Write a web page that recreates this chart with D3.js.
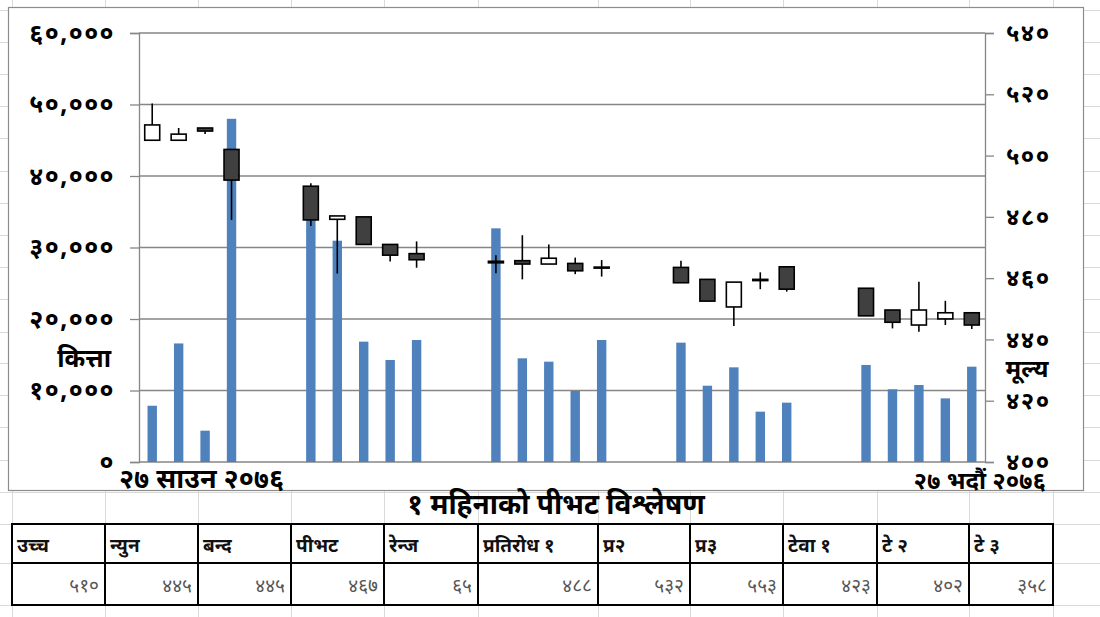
<!DOCTYPE html>
<html>
<head>
<meta charset="utf-8">
<script src="https://cdn.jsdelivr.net/npm/d3@7"></script>
<style>
  body { margin: 0; background: #fff; }
  svg text { font-family: "Noto Sans Devanagari", "Noto Serif Devanagari", "Lohit Devanagari", "FreeSans", "Noto Sans", sans-serif; }
</style>
</head>
<body>
<div id="viz"></div>
<script>
// calendar days on the axis (27 Saun .. 27 Bhadau 2076)
var days = ['S27','S28','S29','S30','S31','B1','B2','B3','B4','B5','B6','B7','B8','B9','B10','B11',
            'B12','B13','B14','B15','B16','B17','B18','B19','B20','B21','B22','B23','B24','B25','B26','B27'];
// trading days
var tradeDays = ['S27','S28','S29','S30','B2','B3','B4','B5','B6','B9','B10','B11','B12','B13',
                 'B16','B17','B18','B19','B20','B23','B24','B25','B26','B27'];
var volume = [7870, 16580, 4380, 48000, 36000, 30950, 16830, 14270, 17060, 32680, 14500, 14030,
              9930, 17060, 16690, 10670, 13240, 7040, 8300, 13570, 10170, 10770, 8900, 13330];
var opens  = [505, 505, 509, 502, 490, 479.2, 480, 471, 468, 465.5, 465.7, 464.6,
              464.8, 463.6, 463.5, 459.6, 450.6, 459.2, 463.7, 456.7, 449.6, 444.7, 446.7, 448.7];
var highs  = [517, 509, 509, 502, 491, 480.3, 480, 471, 472, 467.5, 474, 471,
              466.7, 465.9, 465.7, 459.6, 458.7, 461.9, 463.7, 456.7, 449.6, 458.8, 452.6, 448.7];
var lows   = [505, 505, 507, 479, 477, 461.5, 471, 465.4, 463.4, 461.6, 459.6, 464.6,
              461.3, 460.5, 458.5, 452.5, 444.4, 456.4, 455.6, 447.7, 443.6, 442.5, 444.7, 443.4];
var closes = [510, 507, 508, 492, 479, 480.3, 471, 467.5, 466, 465, 464.6, 466.5,
              462.4, 463.4, 458.5, 452.5, 458.7, 459.6, 456.4, 447.7, 445.6, 449.6, 448.7, 444.7];

var volTicks = [0, 10000, 20000, 30000, 40000, 50000, 60000];
var priceTicks = [400, 420, 440, 460, 480, 500, 520, 540];
var startLabel = '२७ साउन २०७६';
var endLabel = '२७ भदौं २०७६';
var title = '१ महिनाको पीभट विश्लेषण';

var tableHead = ['उच्च', 'न्युन', 'बन्द', 'पीभट', 'रेन्ज', 'प्रतिरोध १', 'प्र२', 'प्र३', 'टेवा १', 'टे २', 'टे ३'];
var tableVal = [510, 445, 445, 467, 65, 488, 532, 553, 423, 402, 358];

var W = 1100, H = 617;
var nep = '०१२३४५६७८९';
function dev(s) { return String(s).replace(/[0-9]/g, c => nep[+c]); }

var svg = d3.select('#viz').append('svg').attr('width', W).attr('height', H);

// spreadsheet background grid
var colX = [12, 105, 198, 291, 384, 478, 598, 690, 783, 877, 969, 1053];
var rowY = [10, 42, 74, 106, 138, 171, 203, 235, 267, 299, 332, 363, 395, 427, 460, 492, 524, 563, 605];
var sheet = svg.append('g').attr('stroke', '#dadada').attr('stroke-width', 1);
colX.concat([1100]).forEach(x => sheet.append('line').attr('x1', x + .5).attr('x2', x + .5).attr('y1', 0).attr('y2', H));
rowY.forEach(y => sheet.append('line').attr('x1', 0).attr('x2', W).attr('y1', y + .5).attr('y2', y + .5));

// chart area
svg.append('rect').attr('x', 8.5).attr('y', 7.5).attr('width', 1075).attr('height', 483)
   .attr('fill', '#fff').attr('stroke', '#8c8c8c').attr('stroke-width', 1.2);

var plotL = 139, plotR = 985, plotT = 33, plotB = 462;

var x = d3.scaleBand().domain(days).range([plotL, plotR]);
var cx = d => x(d) + x.bandwidth() / 2;
var yV = d3.scaleLinear().domain([0, 60000]).range([plotB, plotT]);
var yP = d3.scaleLinear().domain([400, 540]).range([plotB, plotT]);

// gridlines
svg.append('g').selectAll('line').data(volTicks).enter().append('line')
   .attr('x1', plotL).attr('x2', plotR)
   .attr('y1', d => yV(d)).attr('y2', d => yV(d))
   .attr('stroke', '#868686').attr('stroke-width', 1.3);

// volume bars
svg.append('g').selectAll('rect').data(tradeDays).enter().append('rect')
   .attr('x', d => cx(d) - 4.7)
   .attr('width', 9.4)
   .attr('y', (d, i) => yV(volume[i]))
   .attr('height', (d, i) => yV(0) - yV(volume[i]))
   .attr('fill', '#4f81bd');

// axes
var axL = svg.append('g').attr('transform', 'translate(' + plotL + ',0)')
  .call(d3.axisLeft(yV).tickValues(volTicks).tickSize(9).tickPadding(15)
        .tickFormat(d => dev(d3.format(',')(d))));
var axR = svg.append('g').attr('transform', 'translate(' + plotR + ',0)')
  .call(d3.axisRight(yP).tickValues(priceTicks).tickSize(9).tickPadding(12)
        .tickFormat(d => dev(d)));
[axL, axR].forEach(a => {
  a.select('.domain').attr('stroke', '#868686').attr('stroke-width', 1.3);
  a.selectAll('.tick line').attr('stroke', '#868686').attr('stroke-width', 1.3);
  a.selectAll('.tick text').attr('font-size', 25).attr('font-weight', 'bold')
   .attr('letter-spacing', 1.4).attr('fill', '#000');
});
axR.selectAll('.tick text').attr('font-size', 24);

// candles
var candle = svg.append('g').selectAll('g').data(tradeDays).enter().append('g');
candle.append('line')
  .attr('x1', d => cx(d)).attr('x2', d => cx(d))
  .attr('y1', (d, i) => yP(highs[i])).attr('y2', (d, i) => yP(lows[i]))
  .attr('stroke', '#000').attr('stroke-width', 1.6);
candle.append('rect')
  .attr('x', d => cx(d) - 7.5).attr('width', 15)
  .attr('y', (d, i) => yP(Math.max(opens[i], closes[i])))
  .attr('height', (d, i) => Math.max(1, Math.abs(yP(opens[i]) - yP(closes[i]))))
  .attr('fill', (d, i) => closes[i] > opens[i] ? '#fff' : '#404040')
  .attr('stroke', '#000').attr('stroke-width', 1.6);

// axis titles and date labels
svg.append('text').attr('x', 111).attr('y', 367).attr('text-anchor', 'end')
   .attr('font-size', 25).attr('font-weight', 'bold').text('कित्ता');
svg.append('text').attr('x', 1027).attr('y', 377).attr('text-anchor', 'middle')
   .attr('font-size', 24).attr('font-weight', 'bold').text('मूल्य');
svg.append('text').attr('x', 119).attr('y', 488).attr('text-anchor', 'start')
   .attr('font-size', 27).attr('font-weight', 'bold').text(startLabel);
svg.append('text').attr('x', 1046).attr('y', 489).attr('text-anchor', 'end')
   .attr('font-size', 24).attr('font-weight', 'bold').text(endLabel);

// title
svg.append('text').attr('x', 556).attr('y', 514).attr('text-anchor', 'middle')
   .attr('font-size', 28).attr('font-weight', 'bold').text(title);

// table
var tTop = 524, tMid = 563, tBot = 605;
var tbl = svg.append('g');
tbl.append('rect').attr('x', colX[0]).attr('y', tTop).attr('width', colX[colX.length - 1] - colX[0])
   .attr('height', tBot - tTop).attr('fill', '#fff').attr('stroke', '#000').attr('stroke-width', 2);
tbl.append('line').attr('x1', colX[0]).attr('x2', colX[colX.length - 1]).attr('y1', tMid).attr('y2', tMid)
   .attr('stroke', '#000').attr('stroke-width', 2);
tbl.selectAll('line.col').data(colX.slice(1, -1)).enter().append('line').attr('class', 'col')
   .attr('x1', d => d).attr('x2', d => d).attr('y1', tTop).attr('y2', tBot)
   .attr('stroke', '#000').attr('stroke-width', 2);
tbl.selectAll('text.h').data(tableHead).enter().append('text').attr('class', 'h')
   .attr('x', (d, i) => colX[i] + 5).attr('y', 552)
   .attr('font-size', 19).attr('font-weight', 'bold').attr('fill', '#111').text(d => d);
tbl.selectAll('text.v').data(tableVal).enter().append('text').attr('class', 'v')
   .attr('x', (d, i) => colX[i + 1] - 6).attr('y', 592).attr('text-anchor', 'end')
   .attr('font-size', 19).attr('fill', '#555').text(d => dev(d));
</script>
</body>
</html>
